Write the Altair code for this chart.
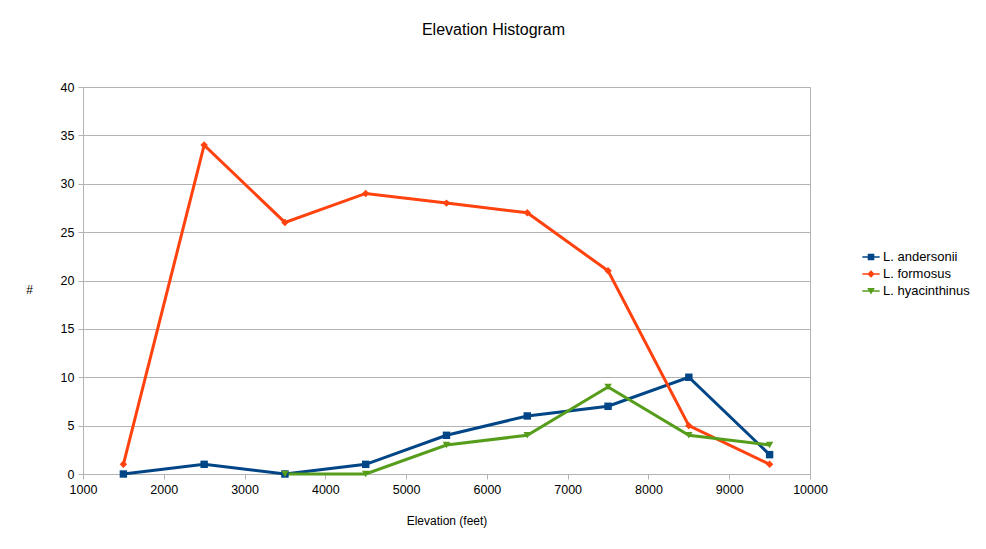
import pandas as pd
import altair as alt

# Elevation bins (feet) and counts per species
elevation = [1500, 2500, 3500, 4500, 5500, 6500, 7500, 8500, 9500]
andersonii = [0, 1, 0, 1, 4, 6, 7, 10, 2]
formosus = [1, 34, 26, 29, 28, 27, 21, 5, 1]
hyacinthinus = [None, None, 0, 0, 3, 4, 9, 4, 3]

species = ["L. andersonii", "L. formosus", "L. hyacinthinus"]
colors = ["#004586", "#ff420e", "#579d1c"]
shapes = ["square", "diamond", "triangle-down"]

# legend symbols: a short line with the marker on top
bar = "M-1,-0.09H1V0.09H-1Z "
legend_shapes = [
    bar + "M-0.38,-0.38H0.38V0.38H-0.38Z",
    bar + "M0,-0.42L0.42,0L0,0.42L-0.42,0Z",
    bar + "M-0.44,-0.34H0.44L0,0.4Z",
]

rows = []
for name, counts in zip(species, [andersonii, formosus, hyacinthinus]):
    for elev, n in zip(elevation, counts):
        if n is not None:
            rows.append({"elevation": elev, "count": n, "species": name})
df = pd.DataFrame(rows)

color_scale = alt.Scale(domain=species, range=colors)
shape_scale = alt.Scale(domain=species, range=shapes)

base = alt.Chart(df).encode(
    x=alt.X("elevation:Q", title="Elevation (feet)",
            scale=alt.Scale(domain=[1000, 10000], nice=False),
            axis=alt.Axis(values=list(range(1000, 10001, 1000)), format="d",
                          grid=False, titlePadding=20, labelFlush=False)),
    y=alt.Y("count:Q", title="#",
            scale=alt.Scale(domain=[0, 40], nice=False),
            axis=alt.Axis(values=list(range(0, 41, 5)), titleX=-54, titleY=202)),
)

# Lines per species
lines = base.mark_line(strokeWidth=3).encode(
    color=alt.Color("species:N", scale=color_scale, legend=None)
)

# Markers on each point
points = base.mark_point(filled=True, opacity=1, size=55).encode(
    color=alt.Color("species:N", scale=color_scale, legend=None),
    shape=alt.Shape("species:N", scale=shape_scale, legend=None),
)

# Empty layer that only carries the legend
legend_layer = base.mark_point(filled=True, opacity=1).encode(
    color=alt.Color("species:N", scale=color_scale, title=None),
    shape=alt.Shape("species:N", scale=alt.Scale(domain=species, range=legend_shapes),
                    title=None),
).transform_filter("false")

chart = alt.layer(lines + points, legend_layer).resolve_scale(
    color="independent", shape="independent"
).properties(
    width=727, height=387,
    autosize=alt.AutoSizeParams(type="none"),
    padding={"left": 75, "top": 79, "right": 168, "bottom": 67},
    title=alt.Title("Elevation Histogram", fontSize=16, fontWeight="normal",
                    font="Liberation Sans", offset=43, dx=47),
).configure_view(
    stroke="#b3b3b3"
).configure_axis(
    domainColor="#b3b3b3", tickColor="#b3b3b3", gridColor="#b3b3b3",
    labelFont="Liberation Sans", labelFontSize=12.5, labelColor="#000000",
    titleFont="Liberation Sans", titleFontSize=12, titleFontWeight="normal",
    titleColor="#000000", tickSize=5, labelPadding=4,
).configure_axisY(
    titleAngle=0, titleAlign="center", titleBaseline="middle"
).configure_legend(
    orient="none", legendX=779, legendY=161,
    labelFont="Liberation Sans", labelFontSize=13, labelColor="#000000",
    symbolSize=300, rowPadding=1, symbolStrokeWidth=0, labelOffset=3,
    symbolOpacity=1,
)

chart.save("out.html", embed_options={"renderer": "svg", "actions": False})
